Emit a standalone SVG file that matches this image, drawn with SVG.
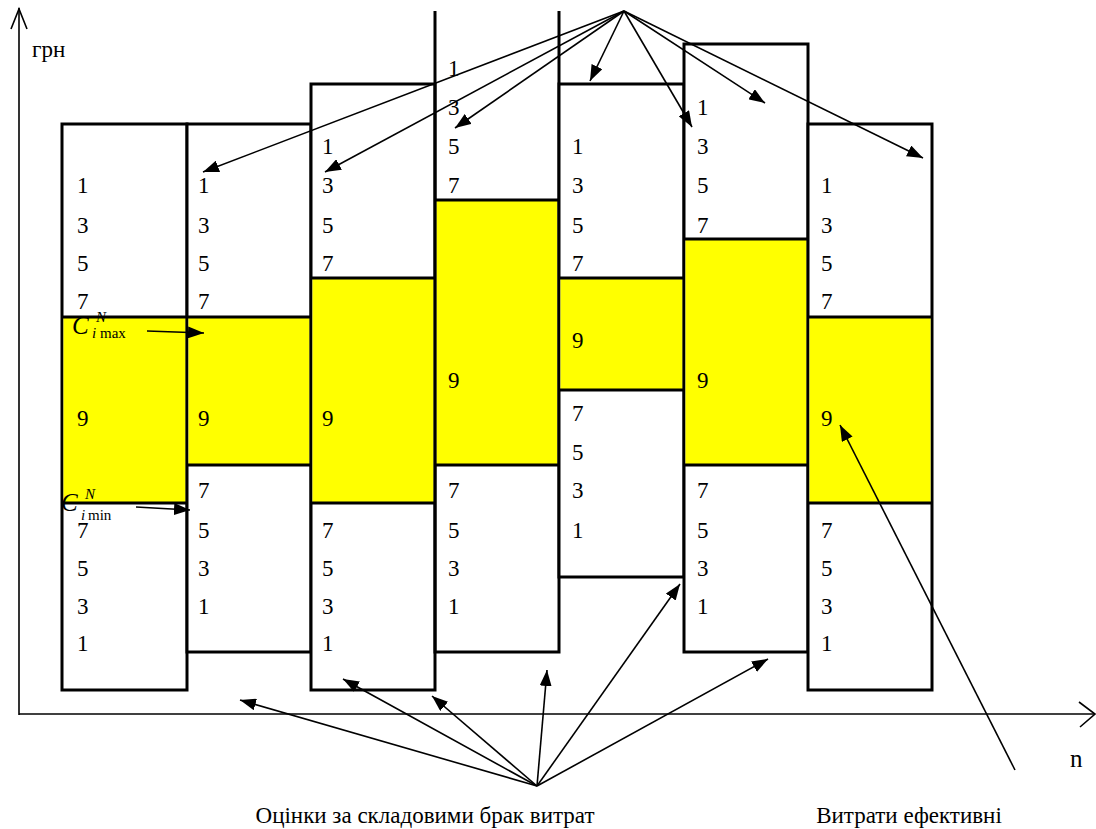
<svg xmlns="http://www.w3.org/2000/svg" width="1096" height="829" viewBox="0 0 1096 829">
<defs>
<marker id="ah" viewBox="0 0 16 12" refX="16" refY="6" markerWidth="16" markerHeight="12" markerUnits="userSpaceOnUse" orient="auto">
<path d="M0,0 L16,6 L0,12 z" fill="#000"/>
</marker>
</defs>
<style>
.box{fill:#fff;stroke:#000;stroke-width:3}
.yel{fill:#ffff00;stroke:none}
.ln{stroke:#000;stroke-width:3;fill:none}
.t{font-family:"Liberation Serif",serif;font-size:23px;fill:#000}
.s{font-family:"Liberation Serif",serif;font-size:15px;fill:#000}
.c{stroke:#000;stroke-width:1.6;fill:none;marker-end:url(#ah)}
.ax{stroke:#000;stroke-width:1.6;fill:none}
</style>
<rect width="1096" height="829" fill="#fff"/>
<g id="axes">
<line class="ax" x1="19" y1="8" x2="19" y2="715"/>
<polyline class="ax" points="11,29 19,9 27,29"/>
<line class="ax" x1="19" y1="714" x2="1094" y2="714"/>
<polyline class="ax" points="1079,702 1095,714 1080,727"/>
<text class="t" x="32" y="57">грн</text>
<text class="t" x="1070" y="767" style="font-size:25px">n</text>
</g>
<g id="col1">
<rect class="box" x="62" y="124" width="125" height="566"/>
<rect class="yel" x="63.5" y="318" width="122" height="185"/>
<line class="ln" x1="62" y1="317" x2="187" y2="317"/>
<line class="ln" x1="62" y1="503" x2="187" y2="503"/>
<text class="t" x="77" y="193">1</text><text class="t" x="77" y="233">3</text><text class="t" x="77" y="271">5</text><text class="t" x="77" y="309">7</text>
<text class="t" x="77" y="426">9</text>
<text class="t" x="77" y="538">7</text><text class="t" x="77" y="576">5</text><text class="t" x="77" y="614">3</text><text class="t" x="77" y="651">1</text>
</g>
<g id="col2">
<rect class="box" x="187" y="124" width="124" height="528"/>
<rect class="yel" x="188.5" y="318" width="121" height="147"/>
<line class="ln" x1="187" y1="317" x2="311" y2="317"/>
<line class="ln" x1="187" y1="465" x2="311" y2="465"/>
<text class="t" x="198" y="193">1</text><text class="t" x="198" y="233">3</text><text class="t" x="198" y="271">5</text><text class="t" x="198" y="309">7</text>
<text class="t" x="198" y="426">9</text>
<text class="t" x="198" y="498">7</text><text class="t" x="198" y="538">5</text><text class="t" x="198" y="576">3</text><text class="t" x="198" y="614">1</text>
</g>
<g id="col3">
<rect class="box" x="311" y="84" width="124" height="606"/>
<rect class="yel" x="312.5" y="279" width="121" height="224"/>
<line class="ln" x1="311" y1="278" x2="435" y2="278"/>
<line class="ln" x1="311" y1="503" x2="435" y2="503"/>
<text class="t" x="322" y="154">1</text><text class="t" x="322" y="193">3</text><text class="t" x="322" y="233">5</text><text class="t" x="322" y="271">7</text>
<text class="t" x="322" y="426">9</text>
<text class="t" x="322" y="538">7</text><text class="t" x="322" y="576">5</text><text class="t" x="322" y="614">3</text><text class="t" x="322" y="651">1</text>
</g>
<g id="col4">
<rect class="yel" x="436.5" y="201" width="121" height="264"/>
<polyline class="ln" points="435,11 435,652 559,652 559,11"/>
<line class="ln" x1="435" y1="200" x2="559" y2="200"/>
<line class="ln" x1="435" y1="465" x2="559" y2="465"/>
<text class="t" x="448" y="76">1</text><text class="t" x="448" y="115">3</text><text class="t" x="448" y="154">5</text><text class="t" x="448" y="193">7</text>
<text class="t" x="448" y="388">9</text>
<text class="t" x="448" y="498">7</text><text class="t" x="448" y="538">5</text><text class="t" x="448" y="576">3</text><text class="t" x="448" y="614">1</text>
</g>
<g id="col5">
<rect class="box" x="559" y="84" width="125" height="493"/>
<rect class="yel" x="560.5" y="279" width="122" height="111"/>
<line class="ln" x1="559" y1="278" x2="684" y2="278"/>
<line class="ln" x1="559" y1="390" x2="684" y2="390"/>
<text class="t" x="572" y="154">1</text><text class="t" x="572" y="193">3</text><text class="t" x="572" y="233">5</text><text class="t" x="572" y="271">7</text>
<text class="t" x="572" y="348">9</text>
<text class="t" x="572" y="421">7</text><text class="t" x="572" y="460">5</text><text class="t" x="572" y="498">3</text><text class="t" x="572" y="538">1</text>
</g>
<g id="col6">
<rect class="box" x="684" y="44" width="124" height="608"/>
<rect class="yel" x="685.5" y="240" width="121" height="225"/>
<line class="ln" x1="684" y1="239" x2="808" y2="239"/>
<line class="ln" x1="684" y1="465" x2="808" y2="465"/>
<text class="t" x="697" y="115">1</text><text class="t" x="697" y="154">3</text><text class="t" x="697" y="193">5</text><text class="t" x="697" y="233">7</text>
<text class="t" x="697" y="388">9</text>
<text class="t" x="697" y="498">7</text><text class="t" x="697" y="538">5</text><text class="t" x="697" y="576">3</text><text class="t" x="697" y="614">1</text>
</g>
<g id="col7">
<rect class="box" x="808" y="124" width="124" height="566"/>
<rect class="yel" x="809.5" y="318" width="121" height="185"/>
<line class="ln" x1="808" y1="317" x2="932" y2="317"/>
<line class="ln" x1="808" y1="503" x2="932" y2="503"/>
<text class="t" x="821" y="193">1</text><text class="t" x="821" y="233">3</text><text class="t" x="821" y="271">5</text><text class="t" x="821" y="309">7</text>
<text class="t" x="821" y="426">9</text>
<text class="t" x="821" y="538">7</text><text class="t" x="821" y="576">5</text><text class="t" x="821" y="614">3</text><text class="t" x="821" y="651">1</text>
</g>
<g id="labels">
<text class="t" font-style="italic" x="72" y="334" style="font-size:25px">C</text>
<text class="s" font-style="italic" x="96" y="322">N</text>
<text class="s" font-style="italic" x="92" y="338">i</text>
<text class="s" x="100" y="338">max</text>
<text class="t" font-style="italic" x="61" y="511" style="font-size:25px">C</text>
<text class="s" font-style="italic" x="85" y="499">N</text>
<text class="s" font-style="italic" x="81" y="520">i</text>
<text class="s" x="88" y="520">min</text>
<text class="t" x="425" y="823" text-anchor="middle">Оцінки за складовими брак витрат</text>
<text class="t" x="909" y="823" text-anchor="middle">Витрати ефективні</text>
</g>
<g id="connectors">
<line class="c" x1="147" y1="331" x2="204" y2="333"/>
<line class="c" x1="136" y1="507" x2="190" y2="510"/>
<line class="c" x1="624" y1="11" x2="203" y2="172"/>
<line class="c" x1="624" y1="11" x2="325" y2="172"/>
<line class="c" x1="624" y1="11" x2="455" y2="128"/>
<line class="c" x1="624" y1="11" x2="590" y2="81"/>
<line class="c" x1="624" y1="11" x2="692" y2="127"/>
<line class="c" x1="624" y1="11" x2="765" y2="103"/>
<line class="c" x1="624" y1="11" x2="923" y2="158"/>
<line class="c" x1="537" y1="786" x2="240" y2="700"/>
<line class="c" x1="537" y1="786" x2="343" y2="679"/>
<line class="c" x1="537" y1="786" x2="432" y2="696"/>
<line class="c" x1="537" y1="786" x2="547" y2="670"/>
<line class="c" x1="537" y1="786" x2="680" y2="584"/>
<line class="c" x1="537" y1="786" x2="768" y2="659"/>
<line class="c" x1="1015" y1="770" x2="840" y2="425"/>
</g>
</svg>
